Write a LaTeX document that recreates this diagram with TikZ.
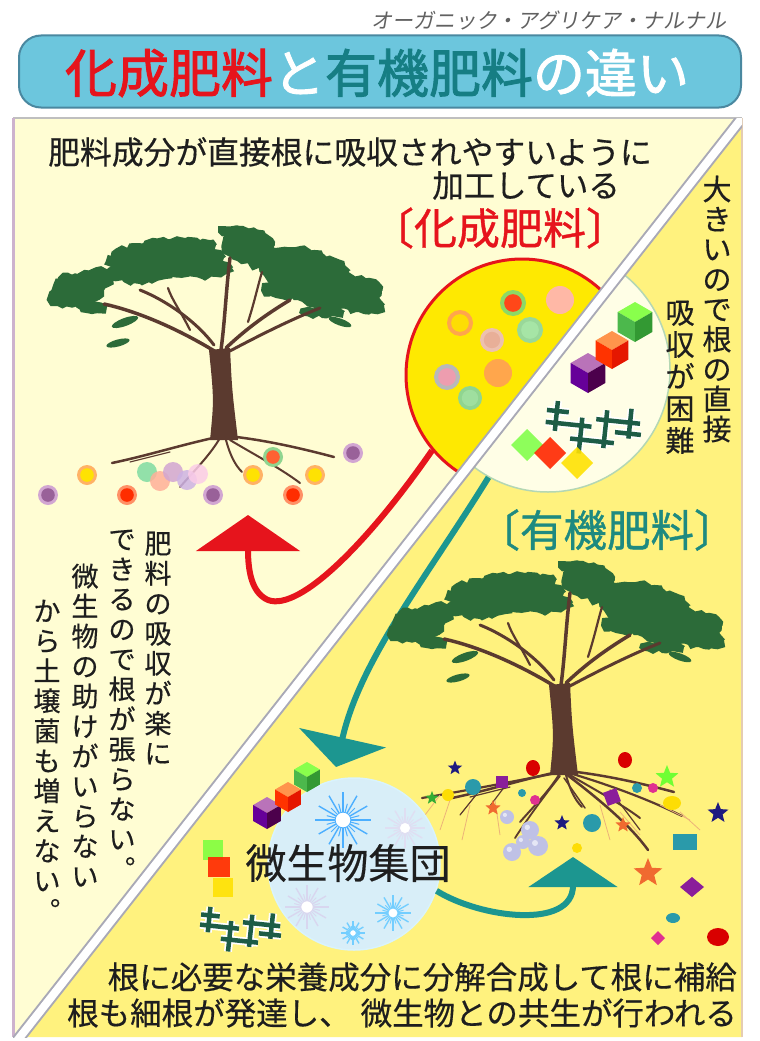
\documentclass[tikz,border=0pt]{standalone}
\usepackage{fontspec}
\setmainfont[FakeBold=0.45]{Noto Sans CJK JP}
\newfontfamily\jpbold[FakeBold=1.8]{Noto Sans CJK JP}
\newfontfamily\jpmid[FakeBold=0.9]{Noto Sans CJK JP}
\newfontfamily\jpslant[FakeSlant=0.18]{Noto Sans CJK JP}
\usetikzlibrary{arrows.meta,shapes.geometric,decorations.pathmorphing}

\definecolor{cream}{HTML}{FFFDD3}
\definecolor{yel}{HTML}{FFF27E}
\definecolor{titlebg}{HTML}{6CC6DD}
\definecolor{titleedge}{HTML}{4A88A0}
\definecolor{redc}{HTML}{E6141C}
\definecolor{tealc}{HTML}{167E84}
\definecolor{tealg}{HTML}{1E8A80}
\definecolor{arrowteal}{HTML}{1C9690}
\definecolor{leaf}{HTML}{2C6B39}
\definecolor{barkc}{HTML}{5B3A2F}
\definecolor{ink}{HTML}{1E1E1E}
\definecolor{bandedge}{HTML}{A9A9B6}
\definecolor{crossg}{HTML}{1D5C46}
\definecolor{navy}{HTML}{1E1A80}
\definecolor{orng}{HTML}{F06A30}
\definecolor{purp}{HTML}{8A1E9A}
\definecolor{pinkc}{HTML}{E03090}
\definecolor{tealdot}{HTML}{2A9AAA}
\definecolor{microbe}{HTML}{D8EEF8}

% isometric cube: x, y, radius, top, left, right
\newcommand{\cubeat}[6]{%
  \begin{scope}[shift={(#1,#2)}]
    \fill[#4] (0,0) -- (-0.866*#3,-0.5*#3) -- (0,-#3) -- (0.866*#3,-0.5*#3) -- cycle;
    \fill[#5] (0,0) -- (-0.866*#3,-0.5*#3) -- (-0.866*#3,0.5*#3) -- (0,#3) -- cycle;
    \fill[#6] (0,0) -- (0.866*#3,-0.5*#3) -- (0.866*#3,0.5*#3) -- (0,#3) -- cycle;
  \end{scope}}

% coloured bead with a ring: x, y, radius, ring, core
\newcommand{\bead}[5]{%
  \fill[#4] (#1,#2) circle[radius=#3];
  \fill[#5] (#1,#2) circle[radius=#3*0.68];}

% sparkle of rays: x, y, radius, colour
\newcommand{\sparkle}[4]{%
  \foreach \a in {0,30,...,330}{\draw[#4, line width=1.4] (#1,#2) -- ++(\a:#3);}
  \foreach \a in {15,45,...,345}{\draw[#4, line width=1] (#1,#2) -- ++(\a:0.6*#3);}
  \fill[white] (#1,#2) circle[radius=0.28*#3];
  \draw[#4, line width=0.8] (#1,#2) circle[radius=0.28*#3];}

% lattice of crossed bars
\newcommand{\lattice}{%
  \foreach \w/\c in {8/white,4.5/crossg}{
    \draw[line width=\w, \c, line cap=butt]
      (10,0) -- (10,30)  (36,14) -- (36,50)  (60,4) -- (60,42)  (84,0) -- (84,30)
      (0,10) -- (22,10)  (0,22) -- (46,22)  (26,36) -- (70,36)  (50,14) -- (94,14)
      (70,25) -- (96,25);}}

% the acacia-like tree, drawn with its trunk foot at (224,438)
\newcommand{\acaciatree}{%
  \pgfmathsetseed{11}
  \fill[leafy] (78,290) ellipse[x radius=26, y radius=16];
  \fill[leafy] (62,298) ellipse[x radius=13, y radius=9];
  \fill[leafy] (96,278) ellipse[x radius=17, y radius=10];
  \fill[leafy] (92,307) ellipse[x radius=15, y radius=7];
  \fill[leafy] (68,280) ellipse[x radius=10, y radius=7];
  \fill[leafy] (168,258) ellipse[x radius=56, y radius=18];
  \fill[leafy] (140,272) ellipse[x radius=34, y radius=12];
  \fill[leafy] (202,268) ellipse[x radius=30, y radius=11];
  \fill[leafy] (180,245) ellipse[x radius=36, y radius=8];
  \fill[leafy] (120,262) ellipse[x radius=14, y radius=8];
  \fill[leafy] (248,246) ellipse[x radius=26, y radius=17];
  \fill[leafy] (240,232) ellipse[x radius=21, y radius=6];
  \fill[leafy] (262,262) ellipse[x radius=14, y radius=8];
  \fill[leafy] (305,271) ellipse[x radius=44, y radius=18];
  \fill[leafy] (336,291) ellipse[x radius=46, y radius=18];
  \fill[leafy] (364,305) ellipse[x radius=20, y radius=9];
  \fill[leafy] (282,290) ellipse[x radius=20, y radius=9];
  \fill[leafy] (322,312) ellipse[x radius=22, y radius=6];
  \fill[leafy] (296,254) ellipse[x radius=26, y radius=7];
  \fill[leaf, rotate around={20:(125,322)}] (125,322) ellipse[x radius=14, y radius=4];
  \fill[leaf, rotate around={15:(118,343)}] (118,343) ellipse[x radius=12, y radius=3.5];
  \fill[leaf, rotate around={-20:(340,322)}] (340,322) ellipse[x radius=12, y radius=3.5];
  \draw[barkc, line width=3.5, line cap=round] (216,352) .. controls (180,330) and (140,312) .. (104,304);
  \draw[barkc, line width=3, line cap=round] (214,345) .. controls (195,320) and (165,300) .. (140,290);
  \draw[barkc, line width=2.2, line cap=round] (190,330) .. controls (180,310) and (172,300) .. (168,288);
  \draw[barkc, line width=3.5, line cap=round] (221,350) .. controls (225,320) and (226,290) .. (230,258);
  \draw[barkc, line width=3.5, line cap=round] (226,348) .. controls (245,330) and (265,315) .. (290,300);
  \draw[barkc, line width=3, line cap=round] (228,352) .. controls (260,335) and (290,320) .. (320,308);
  \draw[barkc, line width=2.2, line cap=round] (248,322) .. controls (255,300) and (258,285) .. (262,272);
  \fill[barkc] (209,350) -- (230,348) .. controls (232,390) .. (238,440) -- (210,440) .. controls (214,400) .. (209,350) -- cycle;
  \draw[barkc, line width=2.5, line cap=round] (222,436) .. controls (180,445) and (150,455) .. (112,463);
  \draw[barkc, line width=2, line cap=round] (220,438) .. controls (210,455) and (195,470) .. (180,487);
  \draw[barkc, line width=2, line cap=round] (226,440) .. controls (230,455) and (235,465) .. (242,472);
  \draw[barkc, line width=2.5, line cap=round] (228,436) .. controls (265,440) and (300,448) .. (334,457);
  \draw[barkc, line width=2, line cap=round] (230,440) .. controls (255,455) and (280,468) .. (300,483);
  \draw[barkc, line width=1.2, line cap=round] (170,452) -- (130,462);}

\begin{document}
\begin{tikzpicture}[x=1pt, y=-1pt,
  txt/.style={inner sep=0, text=ink},
  vtext/.style={inner sep=0, align=center, anchor=north, text=ink},
  leafy/.style={leaf, decorate, decoration={random steps, segment length=5, amplitude=2.2}},
  starn/.style={star, star points=5, star point ratio=2.3, inner sep=0, draw=none},
  redline/.style={draw=redc, line width=6, -{Triangle[length=36pt, width=103pt]}},
  tealline/.style={draw=arrowteal, line width=6}]

\useasboundingbox (0,0) rectangle (760,1041);
\fill[white] (0,0) rectangle (760,1041);

% ---------- heading ----------
\node[txt, anchor=east, text=black!62, font=\jpslant\fontsize{21}{22}\selectfont] (brand) at (727,20) {オーガニック・アグリケア・ナルナル};
\node[draw=titleedge, fill=titlebg, line width=2, rounded corners=22, minimum width=722, minimum height=72, inner sep=0] (titlebox) at (380,71.5) {};
\node[inner sep=0, font=\jpbold\fontsize{52}{56}\selectfont] (title) at (377,73)
  {\textcolor{redc}{化成肥料}\textcolor{white}{と}\textcolor{tealc}{有機肥料}\textcolor{white}{の違い}};

% ---------- panel ----------
\fill[cream] (13,118) -- (742,118) -- (20,1037) -- (13,1037) -- cycle;
\fill[yel] (742,118) -- (742,1037) -- (20,1037) -- cycle;
\draw[black!25, line width=1.5] (13,118) -- (742,118);
\draw[black!30!violet!30, line width=3] (13,118) -- (13,1037);
\draw[brown!40, line width=2] (742,118) -- (742,1037);

% ---------- chemical fertiliser side ----------
\node[txt, anchor=west, font=\fontsize{31.8}{34}\selectfont] (chemtext1) at (48,152) {肥料成分が直接根に吸収されやすいように};
\node[txt, anchor=east, font=\fontsize{31.4}{34}\selectfont] (chemtext2) at (620,185.5) {加工している};
\node[txt, text=redc, font=\jpmid\fontsize{43}{46}\selectfont] (chemlabel) at (500,228) {〔化成肥料〕};

\acaciatree

% beads below the first tree
\bead{48}{495}{10}{violet!35}{violet!55!gray!80}
\bead{87}{475}{10}{orange!60}{yellow!85!orange}
\bead{127}{495}{10}{orange!55!red!60}{red!65!orange}
\fill[teal!55!green!50, opacity=0.85] (147,472) circle[radius=10];
\fill[orange!45!red!40, opacity=0.85] (160,481) circle[radius=10];
\fill[violet!35, opacity=0.85] (173,472) circle[radius=10];
\fill[blue!30!violet!30, opacity=0.85] (187,480) circle[radius=10];
\fill[magenta!20, opacity=0.85] (198,474) circle[radius=10];
\bead{213}{495}{10}{violet!35}{violet!55!gray!80}
\bead{253}{475}{10}{orange!60}{yellow!85!orange}
\bead{273}{457}{10}{green!45!gray!60}{red!55!orange!80}
\bead{293}{495}{10}{orange!55!red!60}{red!65!orange}
\bead{315}{475}{10}{orange!60}{yellow!85!orange}
\bead{353}{453}{10}{violet!35}{violet!55!gray!80}

% yellow bubble of dissolved nutrients, cut by the diagonal
\begin{scope}
  \clip (886.4,-65.8) -- (-124.4,1220.8) -- (-300,1220.8) -- (-300,-300) -- (886.4,-300) -- cycle;
  \node[circle, draw=redc, line width=3, fill=yellow!92!orange, minimum size=232, inner sep=0] (chem) at (522,375) {};
\end{scope}
\bead{460}{323}{13}{orange!70}{yellow!80!orange}
\bead{513}{303}{13}{green!50!olive!60}{red!60!orange!90}
\fill[orange!40!red!35] (560,300) circle[radius=14];
\bead{492}{340}{12}{brown!40!pink!70}{brown!40!pink!90}
\bead{530}{330}{13}{gray!55!green!55}{gray!45!green!45}
\bead{447}{377}{13}{gray!55}{purple!40!pink!70}
\fill[orange!70] (498,373) circle[radius=14];
\bead{470}{398}{12}{green!45!gray!60}{green!50!gray!50}

% pale bubble of large organic matter
\begin{scope}
  \clip (886.4,-65.8) -- (-124.4,1220.8) -- (1100,1220.8) -- (1100,-65.8) -- cycle;
  \node[circle, draw=green!30!gray!45, line width=1.5, fill=yellow!10, minimum size=244, inner sep=0] (org) at (548,370) {};
\end{scope}
\cubeat{588}{373}{20}{violet!55}{violet!80!blue}{violet!60!black}
\cubeat{612}{350}{19}{orange!80!red!70}{red!60!orange}{red!80!orange!90!black}
\cubeat{635}{322}{20}{green!55!lime!70}{green!60!black!70}{green!50!black!80}
\begin{scope}[shift={(548,400)}, rotate=-6]
  \lattice
\end{scope}
\fill[green!60!lime!70, opacity=0.9] (527,429) -- (543,445) -- (527,461) -- (511,445) -- cycle;
\fill[red!70!orange, opacity=0.9] (550,437) -- (566,453) -- (550,469) -- (534,453) -- cycle;
\fill[yellow!85!orange, opacity=0.9] (577,447) -- (593,463) -- (577,479) -- (561,463) -- cycle;

% white diagonal band
\begin{scope}
  \clip (13,118) rectangle (742,1037);
  \draw[bandedge, line width=12] (886.4,-65.8) -- (-124.4,1220.8);
  \draw[white, line width=8] (886.4,-65.8) -- (-124.4,1220.8);
\end{scope}

% text beside the organic bubble
\node[vtext, font=\fontsize{29}{30}\selectfont] (bigtext) at (717,175.5) {大\\き\\い\\の\\で\\根\\の\\直\\接};
\node[vtext, font=\fontsize{29}{32}\selectfont] (hardtext) at (680,300.5) {吸\\収\\が\\困\\難};

% arrows
\draw[redline] (chem.220) .. controls (370,540) and (300,612) .. (268,600) .. controls (252,593) and (248,572) .. (248,515);
\draw[tealline, -{Triangle[length=30pt, width=88pt]}] (org.241) .. controls (425,580) and (360,660) .. (336,767);

% ---------- organic fertiliser side ----------
\node[txt, text=tealg, font=\jpmid\fontsize{43.5}{46}\selectfont] (orglabel) at (607,530) {〔有機肥料〕};

\begin{scope}[shift={(340,335)}]
  \acaciatree
\end{scope}
% fine roots of the second tree
\draw[barkc, line width=2.2, line cap=round] (562,772) .. controls (520,780) and (470,790) .. (422,798);
\draw[barkc, line width=2.2, line cap=round] (566,772) .. controls (610,785) and (650,800) .. (682,816);
\draw[barkc, line width=2.5, line cap=round] (566,774) .. controls (600,800) and (630,825) .. (648,850);
\draw[barkc, line width=1.8, line cap=round] (560,776) .. controls (545,795) and (530,815) .. (515,838);
\draw[barkc, line width=1.5, line cap=round] (564,778) -- (585,808);
\draw[barkc, line width=1.2, line cap=round] (610,790) -- (640,830) (480,790) -- (460,815) (505,786) -- (490,806);
\foreach \x/\y/\u/\v in {450/800/440/830, 470/805/462/840, 495/800/500/835, 600/805/610/840, 620/812/640/835, 660/805/690/820, 440/795/425/815, 680/812/700/830}{
  \draw[brown!50!orange!60, line width=0.8] (\x,\y) -- (\u,\v);}

% nutrients and organisms around the roots
\node[starn, fill=navy, minimum size=15] (s1) at (455,768) {};
\node[starn, fill=navy, minimum size=22] (s2) at (718,813) {};
\node[starn, fill=navy, minimum size=16] (s3) at (562,823) {};
\node[starn, fill=green!60!black!80, minimum size=14] (s4) at (432,798) {};
\node[starn, fill=green!60!lime!80, minimum size=24] (s5) at (667,777) {};
\node[starn, fill=orng, minimum size=16] (s6) at (493,808) {};
\node[starn, fill=orng, minimum size=16] (s7) at (623,825) {};
\node[starn, fill=orng, minimum size=30] (s8) at (648,873) {};
\fill[red!85!black] (533,768) ellipse[x radius=7, y radius=8];
\fill[red!85!black] (625,760) ellipse[x radius=7, y radius=8];
\fill[red!85!black] (718,937) ellipse[x radius=11, y radius=9];
\fill[tealdot] (473,787) circle[radius=8];
\fill[tealdot] (522,793) circle[radius=4];
\fill[tealdot] (637,788) circle[radius=5];
\fill[tealdot] (673,918) ellipse[x radius=7, y radius=5];
\fill[tealdot] (592,823) circle[radius=9];
\fill[tealdot] (673,834) rectangle (697,850);
\fill[purp] (496,776) rectangle (508,788);
\fill[purp, rotate around={20:(612,797)}] (605,790) rectangle (619,804);
\fill[purp] (692,877) -- (704,887) -- (692,897) -- (680,887) -- cycle;
\fill[pinkc] (535,800) circle[radius=5];
\fill[pinkc] (653,788) circle[radius=5];
\fill[pinkc] (658,931) -- (665,938) -- (658,945) -- (651,938) -- cycle;
\fill[yellow!80!orange] (448,795) circle[radius=6];
\fill[yellow!80!orange] (672,803) ellipse[x radius=9, y radius=7];
\fill[yellow!80!orange] (577,848) circle[radius=5];
\foreach \x/\y/\r in {507/817/7, 530/830/9, 523/842/7, 538/846/10, 512/852/9}{
  \fill[cyan!25!blue!25] (\x,\y) circle[radius=\r];
  \fill[white, opacity=0.6] (\x-0.3*\r,\y-0.3*\r) circle[radius=0.3*\r];}

% microbe community
\node[circle, fill=microbe, draw=cyan!15, line width=1.5, minimum size=172, inner sep=0] (mic) at (354,864) {};
\sparkle{307}{907}{22}{cyan!20!blue!15}
\sparkle{405}{828}{20}{cyan!20!blue!12}
\sparkle{343}{820}{28}{blue!45!cyan!70}
\sparkle{393}{913}{18}{blue!35!cyan!55}
\sparkle{353}{933}{12}{blue!35!cyan!55}
\node[txt, font=\fontsize{41}{44}\selectfont] (mictext) at (348,863) {微生物集団};
\cubeat{267}{813}{16}{violet!55}{violet!80!blue}{violet!60!black}
\cubeat{288}{797}{15}{orange!80!red!70}{red!60!orange}{red!80!orange!90!black}
\cubeat{307}{777}{15}{green!55!lime!70}{green!60!black!70}{green!50!black!80}
\fill[green!55!lime!75, opacity=0.9] (203,840) rectangle (223,860);
\fill[red!70!orange, opacity=0.9] (208,857) rectangle (230,877);
\fill[yellow!85!orange, opacity=0.9] (213,878) rectangle (233,897);
\begin{scope}[shift={(202,906)}, scale=0.85, rotate=-6]
  \lattice
\end{scope}

\draw[tealline, -{Triangle[length=30pt, width=88pt]}] (mic.-18) .. controls (480,918) and (573,930) .. (573,857);

% summary lines
\node[txt, anchor=east, font=\fontsize{31.5}{34}\selectfont] (sum1) at (737,977) {根に必要な栄養成分に分解合成して根に補給};
\node[txt, anchor=east, font=\fontsize{31.5}{34}\selectfont] (sum2) at (737,1013) {根も細根が発達し、\hspace{10pt}微生物との共生が行われる};

% vertical note on the left
\node[vtext, font=\fontsize{27}{30}\selectfont] (note1) at (158,531.5) {肥\\料\\の\\吸\\収\\が\\楽\\に};
\node[vtext, font=\fontsize{27}{30}\selectfont] (note2) at (122,529.5) {で\\き\\る\\の\\で\\根\\が\\張\\ら\\な\\い\\︒};
\node[vtext, font=\fontsize{27}{30}\selectfont] (note3) at (85,563.5) {微\\生\\物\\の\\助\\け\\が\\い\\ら\\な\\い};
\node[vtext, font=\fontsize{27}{30}\selectfont] (note4) at (47,599.5) {か\\ら\\土\\壌\\菌\\も\\増\\え\\な\\い\\︒};

\end{tikzpicture}
\end{document}
